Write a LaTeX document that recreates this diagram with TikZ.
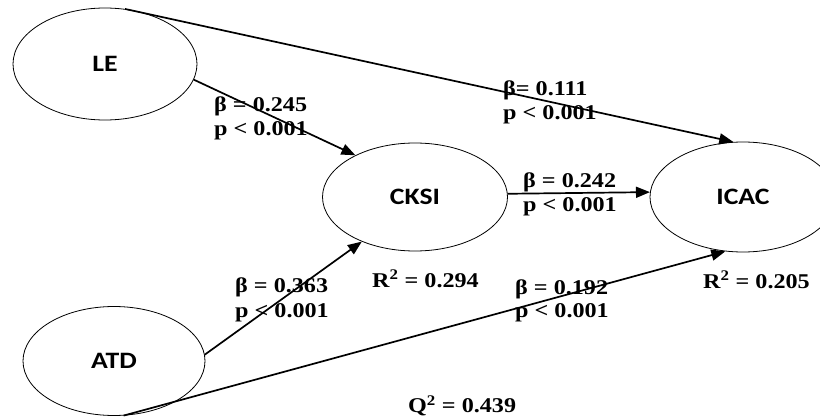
\documentclass[tikz,border=0pt]{standalone}
\usepackage{fontspec}
\setmainfont[FakeStretch=1.15]{Liberation Serif}
\newfontfamily\nodefont[FakeStretch=1.18]{Carlito}
\usetikzlibrary{shapes.geometric,arrows.meta}
\tikzset{
  latent/.style={ellipse,draw,line width=0.8pt,inner sep=0pt,font=\nodefont\bfseries\fontsize{23.5}{27}\selectfont},
  lbl/.style={anchor=west,inner sep=0pt,font=\bfseries\fontsize{21}{24}\selectfont},
  path/.style={line width=1.7pt,-{Triangle[length=14pt,width=11pt]}},
}
\begin{document}
\begin{tikzpicture}[x=1pt,y=-1pt]
\useasboundingbox (0,0) rectangle (820,420);
\node[latent,minimum width=184pt,minimum height=112pt] (LE) at (105,64) {LE};
\node[latent,minimum width=185pt,minimum height=108pt] (CKSI) at (415,197) {CKSI};
\node[latent,minimum width=186pt,minimum height=110pt] (ICAC) at (743,197) {ICAC};
\node[latent,minimum width=182pt,minimum height=109pt] (ATD) at (114,361) {ATD};

\node[lbl] (b1) at (214,106) {β = 0.245};
\node[lbl] (p1) at (214,131) {p < 0.001};
\node[lbl] (b2) at (503,90) {β= 0.111};
\node[lbl] (p2) at (503,115) {p < 0.001};
\node[lbl] (b3) at (523,182) {β = 0.242};
\node[lbl] (p3) at (523,207) {p < 0.001};
\node[lbl] (b4) at (235,287) {β = 0.363};
\node[lbl] (p4) at (235,313) {p < 0.001};
\node[lbl] (b5) at (515,289) {β = 0.192};
\node[lbl] (p5) at (515,313) {p < 0.001};
\node[lbl] (r1) at (372,279) {R\textsuperscript{2} = 0.294};
\node[lbl] (r2) at (703,280) {R\textsuperscript{2} = 0.205};
\node[lbl] (q1) at (408,406) {Q\textsuperscript{2} = 0.439};

\draw[path] (LE.70) -- (ICAC.100);
\draw[path] (LE.-10) -- (CKSI.145);
\draw[path] (CKSI.2.5) -- (ICAC.177.5);
\draw[path] (ATD.4) -- (CKSI.220);
\draw[path] (ATD.-80) -- (ICAC.252);
\end{tikzpicture}
\end{document}
